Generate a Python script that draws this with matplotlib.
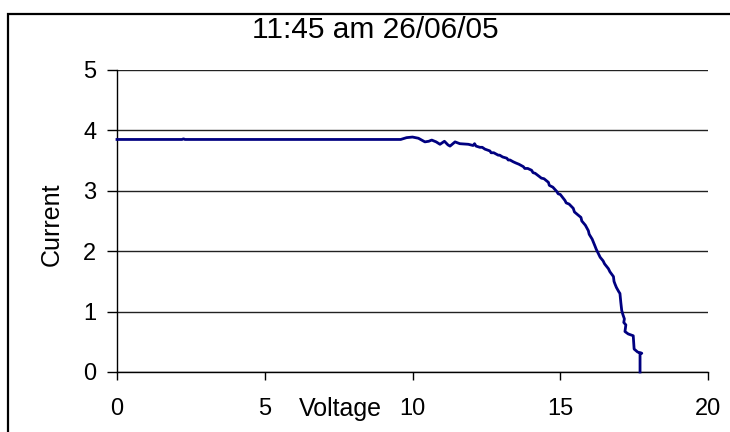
import matplotlib
matplotlib.use("Agg")
import matplotlib.pyplot as plt
from matplotlib.patches import Rectangle

plt.rcParams['font.family'] = ['Liberation Sans', 'DejaVu Sans']

title = "11:45 am 26/06/05"
x_label = "Voltage"
y_label = "Current"
x_ticks = [0, 5, 10, 15, 20]
y_ticks = [0, 1, 2, 3, 4, 5]

# I-V sweep of the panel
voltage = [0.0, 2.2, 2.25, 2.3, 9.6, 9.8, 10.0, 10.2, 10.42, 10.55, 10.65, 10.8,
           10.93, 11.08, 11.2, 11.27, 11.44, 11.6, 11.89, 12.05, 12.1, 12.15,
           12.28, 12.36, 12.45, 12.62, 12.66, 12.75, 12.9, 12.95, 13.05, 13.19,
           13.24, 13.3, 13.41, 13.5, 13.6, 13.75, 13.8, 13.9, 14.03, 14.08,
           14.15, 14.31, 14.36, 14.45, 14.6, 14.63, 14.75, 14.88, 14.93, 15.0,
           15.16, 15.2, 15.3, 15.44, 15.48, 15.6, 15.7, 15.73, 15.85, 15.95,
           15.98, 16.08, 16.18, 16.22, 16.35, 16.45, 16.5, 16.63, 16.68, 16.8,
           16.82, 16.85, 16.9, 16.98, 17.02, 17.05, 17.08, 17.12, 17.17, 17.15,
           17.22, 17.19, 17.3, 17.47, 17.5, 17.62, 17.76, 17.70, 17.70]
current = [3.85, 3.85, 3.86, 3.85, 3.85, 3.88, 3.89, 3.87, 3.81, 3.82, 3.84, 3.81,
           3.77, 3.82, 3.76, 3.74, 3.81, 3.78, 3.77, 3.75, 3.78, 3.74,
           3.72, 3.72, 3.69, 3.66, 3.63, 3.63, 3.59, 3.59, 3.56, 3.54,
           3.51, 3.51, 3.48, 3.46, 3.44, 3.40, 3.37, 3.37, 3.34, 3.30,
           3.29, 3.23, 3.21, 3.20, 3.14, 3.09, 3.06, 2.99, 2.95, 2.94,
           2.84, 2.80, 2.78, 2.71, 2.65, 2.60, 2.56, 2.50, 2.43, 2.34,
           2.28, 2.20, 2.08, 2.03, 1.90, 1.84, 1.79, 1.71, 1.66, 1.58,
           1.50, 1.46, 1.40, 1.33, 1.30, 1.15, 1.02, 0.95, 0.88, 0.82,
           0.78, 0.67, 0.63, 0.60, 0.38, 0.33, 0.31, 0.31, 0.0]

W, H = 730, 432
fig = plt.figure(figsize=(W / 100, H / 100), dpi=100)

# outer chart frame
fig.patches.append(Rectangle((8 / W, -0.1), 1.2, (H - 14) / H + 0.1,
                             transform=fig.transFigure, fill=False,
                             edgecolor='black', linewidth=1.6))

left, right, top, bottom = 117, 708, 70, 372
ax = fig.add_axes([left / W, (H - bottom) / H, (right - left) / W, (bottom - top) / H])

ax.plot(voltage, current, color='#000080', linewidth=2.0, clip_on=False, zorder=3)

ax.set_xlim(0, 20)
ax.set_ylim(0, 5)
ax.set_xticks(x_ticks)
ax.set_yticks(y_ticks)
ax.set_xticklabels([str(t) for t in x_ticks])
ax.set_yticklabels([str(t) for t in y_ticks])

for s in ['top', 'right']:
    ax.spines[s].set_visible(False)
for s in ['left', 'bottom']:
    ax.spines[s].set_linewidth(1.0)
    ax.spines[s].set_color('black')

ax.yaxis.grid(True, color='#222222', linewidth=1.0)
ax.set_axisbelow(True)
ax.tick_params(axis='x', direction='out', length=6, width=1, pad=13, labelsize=17)
ax.tick_params(axis='y', direction='out', length=7, width=1, pad=8, labelsize=17)

fig.text(375 / W, 1 - 30 / H, title, ha='center', va='center', fontsize=21.5)
fig.text(340 / W, 1 - 409 / H, x_label, ha='center', va='center', fontsize=18)
fig.text(52 / W, 1 - 224 / H, y_label, ha='center', va='center', fontsize=18,
         rotation=90)

fig.savefig("out.png", dpi=100)
